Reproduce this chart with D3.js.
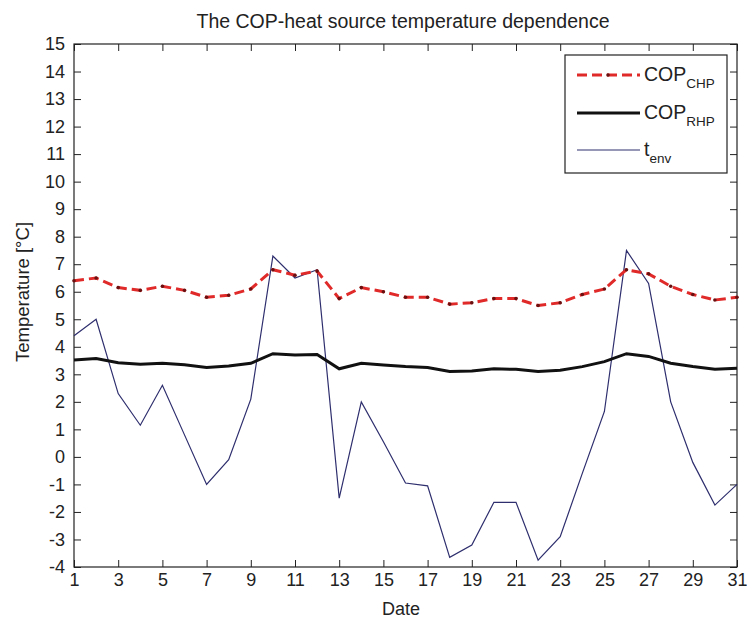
<!DOCTYPE html>
<html>
<head>
<meta charset="utf-8">
<script src="https://cdn.jsdelivr.net/npm/d3@7"></script>
<style>
  body { margin: 0; background: #fff; }
  svg text { font-family: "Liberation Sans", Arial, sans-serif; fill: #222; }
</style>
</head>
<body>
<svg id="chart" width="747" height="619"></svg>
<script>
(function() {

  var days = d3.range(1, 32);
  var copChp = [6.4, 6.5, 6.15, 6.05, 6.2, 6.05, 5.8, 5.87, 6.1, 6.8, 6.6, 6.75, 5.75, 6.15, 6.0,
    5.8, 5.8, 5.55, 5.6, 5.75, 5.75, 5.5, 5.6, 5.9, 6.1, 6.8, 6.65, 6.2, 5.9, 5.7, 5.8];
  var copRhp = [3.52, 3.57, 3.42, 3.37, 3.4, 3.35, 3.25, 3.3, 3.4, 3.75, 3.7, 3.72, 3.2, 3.4, 3.34,
    3.28, 3.25, 3.1, 3.12, 3.2, 3.18, 3.1, 3.15, 3.28, 3.46, 3.75, 3.65, 3.4, 3.28, 3.18, 3.22];
  var tEnv = [4.4, 5.0, 2.3, 1.15, 2.6, 0.8, -1.0, -0.1, 2.1, 7.3, 6.5, 6.8, -1.5, 2.0, 0.55,
    -0.95, -1.05, -3.65, -3.2, -1.65, -1.65, -3.75, -2.9, -0.6, 1.65, 7.5, 6.3, 2.0, -0.2, -1.75, -1.0];
  var xTicks = d3.range(1, 32, 2);
  var yTicks = d3.range(-4, 16, 1);

  var left = 74, right = 737, top = 44, bottom = 567;
  var svg = d3.select('#chart');

  var x = d3.scaleLinear().domain([1, 31]).range([left, right]);
  var y = d3.scaleLinear().domain([-4, 15]).range([bottom, top]);

  // title
  svg.append('text')
      .attr('x', 403)
      .attr('y', 28)
      .attr('text-anchor', 'middle')
      .style('font-size', '19.5px')
      .text('The COP-heat source temperature dependence');

  // axes (ticks inward on all sides)
  function styleAxis(g) {
    g.select('.domain').remove();
    g.selectAll('line').attr('stroke', '#222');
    g.selectAll('text').style('font-size', '18px').attr('fill', '#222');
  }

  svg.append('g')
      .attr('transform', 'translate(' + left + ',0)')
      .call(d3.axisLeft(y).tickValues(yTicks).tickSize(-7).tickPadding(9)
        .tickFormat(function(d) { return String(d); }))
      .call(styleAxis);

  svg.append('g')
      .attr('transform', 'translate(' + right + ',0)')
      .call(d3.axisRight(y).tickValues(yTicks).tickSize(-7).tickFormat(''))
      .call(styleAxis);

  svg.append('g')
      .attr('transform', 'translate(0,' + bottom + ')')
      .call(d3.axisBottom(x).tickValues(xTicks).tickSize(-7).tickPadding(6)
        .tickFormat(function(d) { return String(d); }))
      .call(styleAxis);

  svg.append('g')
      .attr('transform', 'translate(0,' + top + ')')
      .call(d3.axisTop(x).tickValues(xTicks).tickSize(-7).tickFormat(''))
      .call(styleAxis);

  // frame
  svg.append('rect')
      .attr('x', left)
      .attr('y', top)
      .attr('width', right - left)
      .attr('height', bottom - top)
      .attr('fill', 'none')
      .attr('stroke', '#222')
      .attr('stroke-width', 1.2);

  // axis labels
  svg.append('text')
      .attr('x', 401)
      .attr('y', 615)
      .attr('text-anchor', 'middle')
      .style('font-size', '18px')
      .text('Date');

  svg.append('text')
      .attr('transform', 'translate(29,292) rotate(-90)')
      .attr('text-anchor', 'middle')
      .style('font-size', '18.5px')
      .text('Temperature [°C]');

  var line = d3.line()
      .x(function(d, i) { return x(days[i]); })
      .y(function(d) { return y(d); });

  // lines
  svg.append('path')
      .datum(tEnv)
      .attr('d', line)
      .attr('fill', 'none')
      .attr('stroke', '#2e2e6e')
      .attr('stroke-width', 1.2);

  svg.append('path')
      .datum(copRhp)
      .attr('d', line)
      .attr('fill', 'none')
      .attr('stroke', '#111')
      .attr('stroke-width', 3);

  svg.append('path')
      .datum(copChp)
      .attr('d', line)
      .attr('fill', 'none')
      .attr('stroke', '#e02a2a')
      .attr('stroke-width', 3)
      .attr('stroke-dasharray', '10,5');

  svg.append('g')
    .selectAll('circle')
    .data(copChp)
    .join('circle')
      .attr('cx', function(d, i) { return x(days[i]); })
      .attr('cy', function(d) { return y(d); })
      .attr('r', 1.8)
      .attr('fill', '#6a1010');

  // legend
  var legend = svg.append('g');
  legend.append('rect')
      .attr('x', 565)
      .attr('y', 55)
      .attr('width', 162)
      .attr('height', 118)
      .attr('fill', '#fff')
      .attr('stroke', '#222')
      .attr('stroke-width', 1.2);

  var items = [
    { name: 'COP', sub: 'CHP', color: '#e02a2a', width: 3, dash: '10,5', marker: true, cy: 75 },
    { name: 'COP', sub: 'RHP', color: '#111', width: 3, dash: null, marker: false, cy: 113 },
    { name: 't', sub: 'env', color: '#2e2e6e', width: 1.2, dash: null, marker: false, cy: 150 }
  ];

  items.forEach(function(it) {
    legend.append('line')
        .attr('x1', 577)
        .attr('x2', 640)
        .attr('y1', it.cy)
        .attr('y2', it.cy)
        .attr('stroke', it.color)
        .attr('stroke-width', it.width)
        .attr('stroke-dasharray', it.dash);
    if (it.marker) {
      legend.append('circle')
          .attr('cx', 608)
          .attr('cy', it.cy)
          .attr('r', 1.8)
          .attr('fill', '#6a1010');
    }
    var t = legend.append('text')
        .attr('x', 644)
        .attr('y', it.cy + 6)
        .style('font-size', '19.5px');
    t.append('tspan').text(it.name);
    t.append('tspan')
        .attr('dy', 7)
        .style('font-size', '13.5px')
        .text(it.sub);
  });

})();
</script>
</body>
</html>
